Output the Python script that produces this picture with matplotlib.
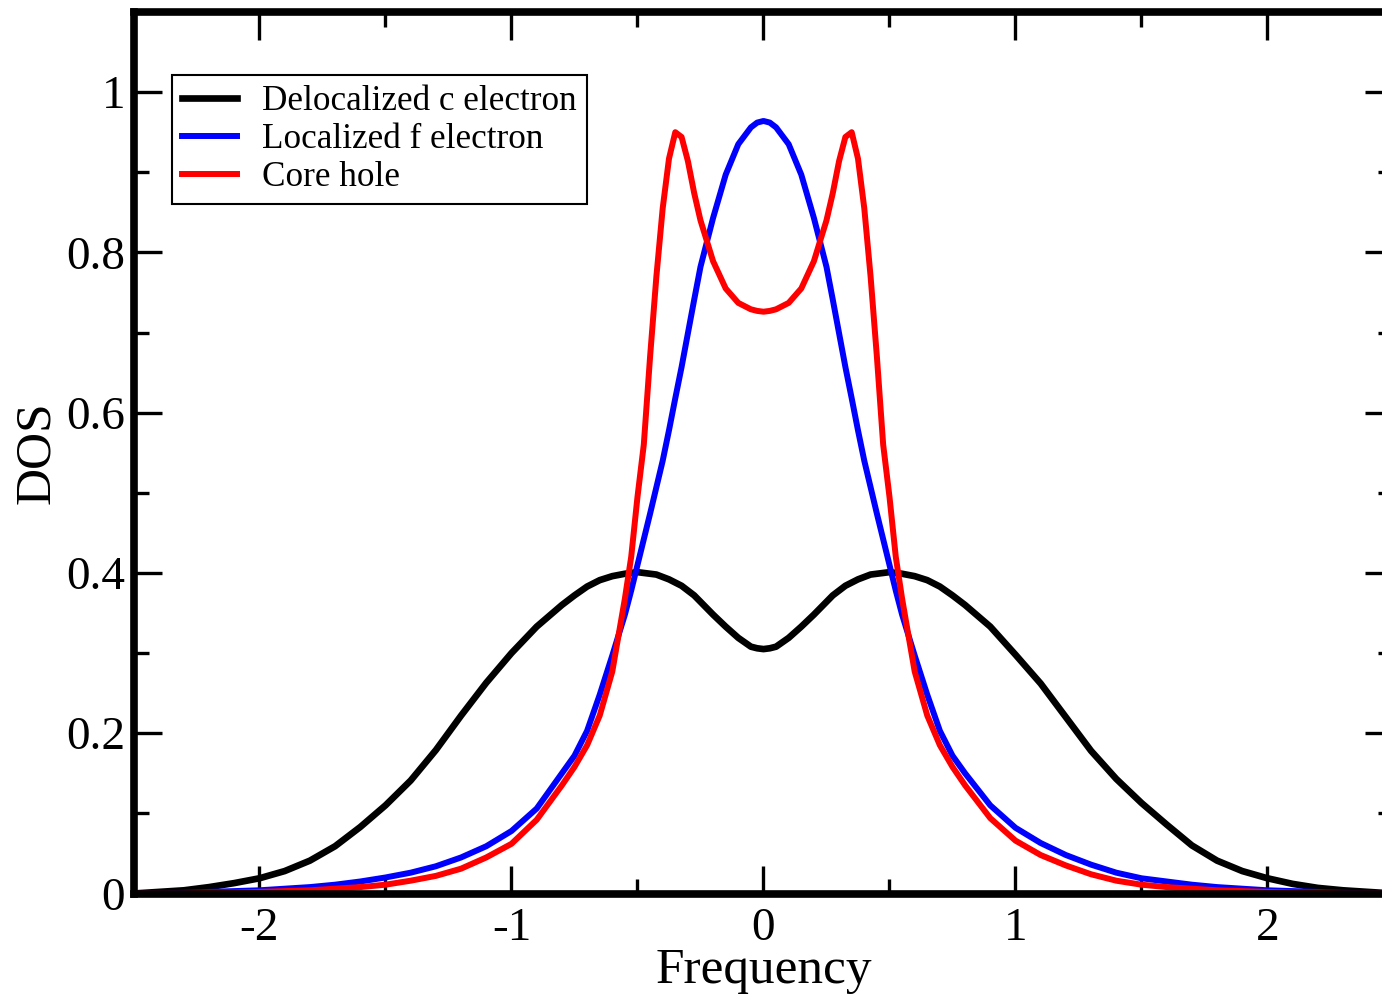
import matplotlib
matplotlib.use("Agg")
import matplotlib.pyplot as plt
from matplotlib.ticker import MultipleLocator

# frequency grid
freq = [-2.5, -2.4, -2.3, -2.2, -2.1, -2.0, -1.9, -1.8, -1.7, -1.6, -1.5, -1.4,
        -1.3, -1.2, -1.1, -1.0, -0.9, -0.8, -0.75, -0.7, -0.65, -0.6, -0.55,
        -0.525, -0.5, -0.475, -0.45, -0.425, -0.4, -0.375, -0.35, -0.325, -0.3,
        -0.275, -0.25, -0.2, -0.15, -0.1, -0.05, -0.025, 0.0,
        0.025, 0.05, 0.1, 0.15, 0.2, 0.25, 0.275, 0.3, 0.325, 0.35, 0.375, 0.4,
        0.425, 0.45, 0.475, 0.5, 0.525, 0.55, 0.6, 0.65, 0.7, 0.75, 0.8, 0.9,
        1.0, 1.1, 1.2, 1.3, 1.4, 1.5, 1.6, 1.7, 1.8, 1.9, 2.0, 2.1, 2.2, 2.3,
        2.4, 2.5]

dos_c = [0.000, 0.002, 0.004, 0.008, 0.013, 0.019, 0.028, 0.041, 0.059, 0.083,
         0.110, 0.141, 0.179, 0.222, 0.263, 0.300, 0.333, 0.360, 0.372, 0.383,
         0.391, 0.396, 0.399, 0.400, 0.401, 0.400, 0.399, 0.398, 0.395, 0.392,
         0.388, 0.384, 0.378, 0.372, 0.364, 0.348, 0.333, 0.319, 0.308, 0.306,
         0.305,
         0.306, 0.308, 0.319, 0.333, 0.348, 0.364, 0.372, 0.378, 0.384, 0.388,
         0.392, 0.395, 0.398, 0.399, 0.400, 0.401, 0.400, 0.399, 0.396, 0.391,
         0.383, 0.372, 0.360, 0.333, 0.298, 0.262, 0.220, 0.178, 0.143, 0.113,
         0.086, 0.060, 0.041, 0.028, 0.019, 0.012, 0.007, 0.004, 0.002, 0.000]

dos_f = [0.000, 0.000, 0.001, 0.002, 0.003, 0.004, 0.006, 0.008, 0.011, 0.015,
         0.020, 0.026, 0.034, 0.045, 0.059, 0.078, 0.106, 0.150, 0.172, 0.203,
         0.248, 0.297, 0.348, 0.378, 0.410, 0.442, 0.474, 0.507, 0.540, 0.578,
         0.618, 0.657, 0.699, 0.741, 0.782, 0.843, 0.897, 0.935, 0.956, 0.962,
         0.964,
         0.962, 0.956, 0.935, 0.897, 0.843, 0.782, 0.741, 0.699, 0.657, 0.618,
         0.578, 0.540, 0.507, 0.474, 0.442, 0.410, 0.378, 0.348, 0.297, 0.248,
         0.203, 0.172, 0.150, 0.110, 0.082, 0.063, 0.048, 0.036, 0.026, 0.019,
         0.015, 0.011, 0.008, 0.006, 0.004, 0.003, 0.002, 0.001, 0.000, 0.000]

dos_core = [0.000, 0.000, 0.000, 0.001, 0.001, 0.002, 0.003, 0.004, 0.006, 0.008,
            0.011, 0.016, 0.022, 0.031, 0.045, 0.062, 0.092, 0.135, 0.158, 0.185,
            0.222, 0.277, 0.368, 0.420, 0.495, 0.560, 0.670, 0.770, 0.855, 0.917,
            0.950, 0.944, 0.914, 0.874, 0.840, 0.789, 0.755, 0.737, 0.729, 0.727,
            0.726,
            0.727, 0.729, 0.737, 0.755, 0.789, 0.840, 0.874, 0.914, 0.944, 0.950,
            0.917, 0.855, 0.770, 0.670, 0.560, 0.495, 0.420, 0.368, 0.277, 0.222,
            0.185, 0.158, 0.135, 0.094, 0.066, 0.048, 0.035, 0.024, 0.016, 0.011,
            0.008, 0.006, 0.004, 0.003, 0.002, 0.001, 0.001, 0.000, 0.000, 0.000]

labels = ["Delocalized c electron", "Localized f electron", "Core hole"]
colors = ["black", "blue", "red"]
widths = [4.8, 4.3, 4.3]

xtick_vals = [-2, -1, 0, 1, 2]
xtick_text = ["-2", "-1", "0", "1", "2"]
ytick_vals = [0, 0.2, 0.4, 0.6, 0.8, 1.0]
ytick_text = ["0", "0.2", "0.4", "0.6", "0.8", "1"]

plt.rcParams["font.family"] = ["Liberation Serif", "DejaVu Serif"]

fig = plt.figure(figsize=(13.82, 9.99), dpi=100)
# right edge of the frame is cut off in the original picture
ax = fig.add_axes([0.0966, 0.1056, 0.9117, 0.8824])

for ys, lab, col, lw in zip([dos_c, dos_f, dos_core], labels, colors, widths):
    ax.plot(freq, ys, color=col, lw=lw, label=lab, solid_joinstyle="round")

ax.set_xlim(-2.5, 2.5)
ax.set_ylim(0, 1.1)

ax.set_xticks(xtick_vals)
ax.set_xticklabels(xtick_text)
ax.set_yticks(ytick_vals)
ax.set_yticklabels(ytick_text)
ax.xaxis.set_minor_locator(MultipleLocator(0.5))
ax.yaxis.set_minor_locator(MultipleLocator(0.1))

for s in ax.spines.values():
    s.set_linewidth(5.5)
ax.tick_params(which="both", direction="in", top=True, right=True, width=2.4,
               labelsize=34)
ax.tick_params(which="major", length=20)
ax.tick_params(which="minor", length=11)
ax.tick_params(axis="x", which="major", pad=10)
ax.tick_params(axis="y", which="major", pad=6)

ax.set_xlabel("Frequency", fontsize=37, labelpad=-2)
ax.set_ylabel("DOS", fontsize=37, labelpad=4)

leg = ax.legend(loc="upper left", bbox_to_anchor=(0.0307, 0.9285),
                borderaxespad=0, fontsize=25.3, handlelength=1.57,
                handletextpad=0.72, labelspacing=0.15, borderpad=0.28,
                fancybox=False, framealpha=1, edgecolor="black")
leg.get_frame().set_linewidth(1.5)

fig.savefig("out.png", dpi=100)
